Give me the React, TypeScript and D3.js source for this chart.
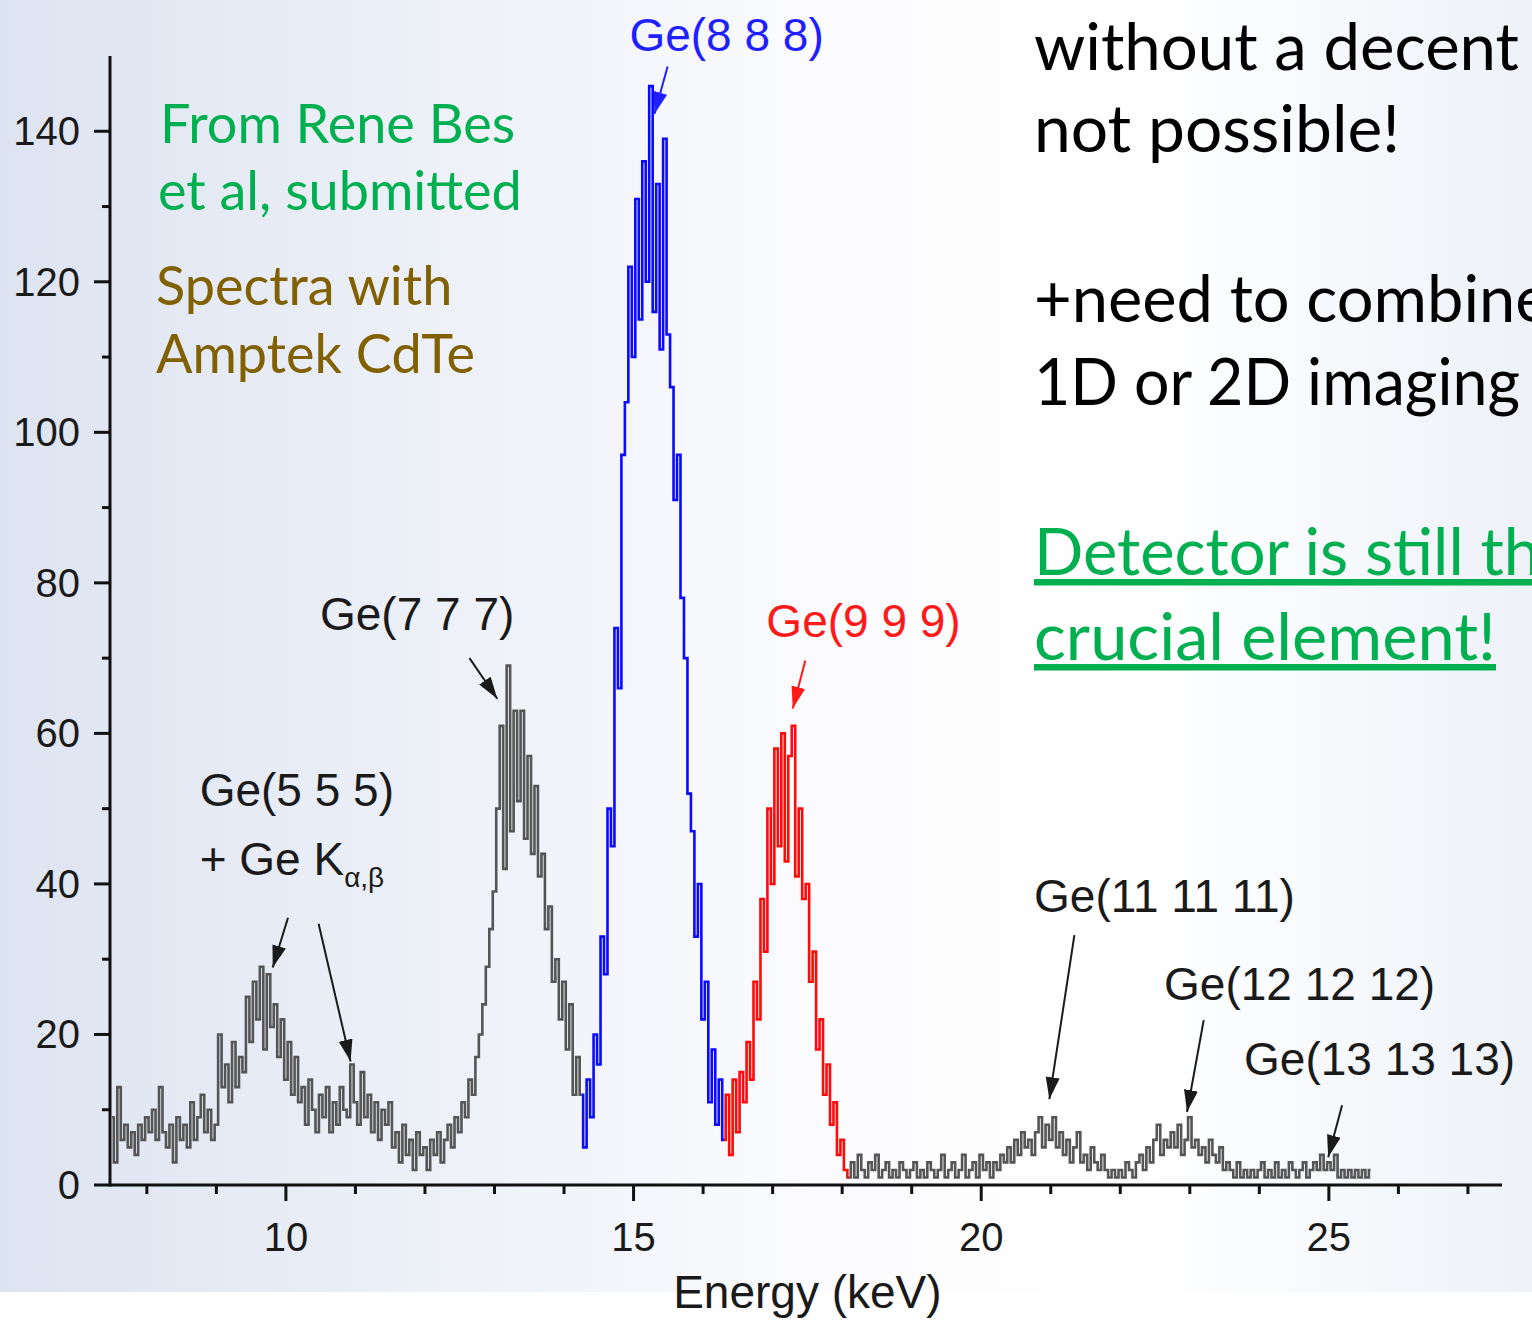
import React from "react";
import * as d3 from "d3";

// ---- Data (counts per 0.05 keV channel) ----
const CHANNEL_STEP = 0.05;

const lowGrayStart = 7.5;
const lowGrayCounts = [
  9, 3, 13, 6, 8, 5, 7, 4, 8, 6, 9, 7, 10, 6, 13, 7, 5, 8, 3, 9, 6, 8, 5, 11, 6, 9, 12, 7, 10, 6, 8,
  20, 13, 16, 11, 19, 13, 17,
  15, 25, 19, 27, 22, 29, 18, 28, 21, 24, 17,
  22, 14, 19, 12, 17, 11,
  13, 8, 14, 10, 7, 12, 9, 13, 7, 11, 8, 13, 10, 9,
  16, 11, 8, 15, 9, 12, 7, 11, 6, 10, 8, 11, 5,
  7, 3, 8, 4, 6, 2, 7, 4, 5, 2, 6, 4, 7, 3, 6,
  8, 5, 9, 7, 11, 9, 14, 12,
  17, 20, 24, 29, 34, 39,
  50, 61, 42, 69, 47, 63, 51, 63, 46, 57, 44, 53, 41, 44, 34, 37, 27, 30, 22, 27, 18, 24, 12, 17, 12,
];

const ge888Start = 14.25;
const ge888Counts = [
  12, 5, 14, 9, 20, 16, 33, 28, 50, 45, 74, 66, 97, 104, 122, 110, 131, 115, 136, 120,
  146, 116, 133, 111, 139, 113, 106, 91, 97, 78, 70, 52, 47, 33, 40, 22, 27, 11, 18, 8, 14, 6,
];

const ge999Start = 16.3;
const ge999Counts = [
  6, 12, 4, 14, 7, 15, 11, 19, 14, 27, 22, 38, 31, 50, 40, 58, 45, 60, 43, 57,
  61, 41, 50, 38, 40, 27, 31, 18, 22, 12, 16, 8, 11, 4, 6, 2, 1,
];

const highGrayStart = 18.1;
const highGrayCounts = [
  1, 3, 1, 4, 2, 1, 3, 2, 4, 1, 2, 3, 1, 2, 1, 3, 2, 1, 2, 3, 1, 2, 1, 3, 2, 1, 2, 4, 1, 2,
  3, 1, 2, 4, 1, 2, 3, 1, 4, 2, 3, 1, 3, 2, 4, 3,
  5, 3, 6, 4, 7, 5, 6, 4, 7, 9, 5, 8, 6, 9, 5, 7, 4, 6, 3, 5, 7, 3, 4, 2, 5, 3, 2, 4, 2, 1,
  2, 1, 2, 1, 3, 2, 1,
  3, 4, 2, 5, 3, 6, 8, 4, 6, 5, 7, 5, 8, 4, 6, 9, 5, 6, 4, 5, 3, 6, 4, 3, 5, 2, 3, 2,
  1, 3, 1, 2, 1, 2, 1, 2, 3, 1, 2, 1, 3, 1, 2, 1, 3, 2, 1, 2, 3, 1, 2, 3, 2, 4, 2, 3, 2, 4,
  1, 2, 1, 2, 1, 2, 1, 2, 1, 2,
];

const xMajorTicks = [10, 15, 20, 25];
const xMinorTicks = [8, 9, 11, 12, 13, 14, 16, 17, 18, 19, 21, 22, 23, 24, 26, 27];
const yMajorTicks = [0, 20, 40, 60, 80, 100, 120, 140];
const yMinorTicks = [10, 30, 50, 70, 90, 110, 130];
const xAxisTitle = "Energy (keV)";

// Peak annotations: label anchor (keV, counts) and arrow from/to (keV, counts)
const peakLabels = [
  { text: "Ge(8 8 8)", x: 14.94, y: 150.7, color: "#1f1fff", arrow: [15.49, 148.6, 15.3, 142.3] },
  { text: "Ge(7 7 7)", x: 10.49, y: 73.7, color: "#1a1a1a", arrow: [12.64, 70.0, 13.04, 64.6] },
  { text: "Ge(9 9 9)", x: 16.91, y: 72.8, color: "#ff1a1a", arrow: [17.47, 69.7, 17.29, 63.3] },
  { text: "Ge(11 11 11)", x: 20.76, y: 36.3, color: "#1a1a1a", arrow: [21.34, 33.2, 20.98, 11.4] },
  { text: "Ge(12 12 12)", x: 22.63, y: 24.6, color: "#1a1a1a", arrow: [23.2, 21.9, 22.96, 9.7] },
  { text: "Ge(13 13 13)", x: 23.78, y: 14.6, color: "#1a1a1a", arrow: [25.19, 10.6, 24.99, 3.7] },
];
const kAlphaArrows = [
  [10.03, 35.5, 9.81, 28.9],
  [10.47, 34.7, 10.93, 16.4],
];

const slideLeftLines = [
  { text: "From Rene Bes", x: 160, y: 143, color: "#00b050" },
  { text: "et al, submitted", x: 158, y: 210, color: "#00b050" },
  { text: "Spectra with", x: 156, y: 305, color: "#806000" },
  { text: "Amptek CdTe", x: 156, y: 373, color: "#806000" },
];
const slideRightLines = [
  { text: "without a decent", y: 70, color: "#000000", underline: false, len: 485 },
  { text: "not possible!", y: 152, color: "#000000", underline: false, len: 366 },
  { text: "+need to combine", y: 322, color: "#000000", underline: false, len: 0 },
  { text: "1D or 2D imaging", y: 405, color: "#000000", underline: false, len: 486 },
  { text: "Detector is still the", y: 575, color: "#00b050", underline: true, len: 0 },
  { text: "crucial element!", y: 660, color: "#00b050", underline: true, len: 462 },
];

const W = 1532;
const H = 1320;

function toPoints(start: number, counts: number[]) {
  return counts.map((c, i) => [start + i * CHANNEL_STEP, c] as [number, number]);
}

export default function App() {
  const x = d3.scaleLinear().domain([7.47, 27.49]).range([110, 1502]);
  const y = d3.scaleLinear().domain([0, 150]).range([1185, 56]);
  const line = d3
    .line<[number, number]>()
    .x((d) => x(d[0]))
    .y((d) => y(d[1]))
    .curve(d3.curveStep);

  const series = [
    { pts: toPoints(lowGrayStart, lowGrayCounts), color: "#555555" },
    { pts: toPoints(highGrayStart, highGrayCounts), color: "#555555" },
    { pts: toPoints(ge888Start, ge888Counts), color: "#0a0aff" },
    { pts: toPoints(ge999Start, ge999Counts), color: "#ff0a0a" },
  ];

  const chartFont = "'Liberation Sans', Arial, sans-serif";
  const slideFont = "Lato, 'Open Sans', sans-serif";
  const axisY = y(0);
  const axisX = x.range()[0];

  const markerId = (c: string) => "arr" + c.replace("#", "");
  const arrowColors = ["#1a1a1a", "#1f1fff", "#ff1a1a"];

  return (
    <svg
      width={W}
      height={H}
      style={{ position: "absolute", left: 0, top: 0, display: "block" }}
    >
      <defs>
        <linearGradient id="bg" x1="0" y1="0" x2="1" y2="0">
          <stop offset="0%" stopColor="#dde4f1" />
          <stop offset="30%" stopColor="#eef1f8" />
          <stop offset="55%" stopColor="#fcfcfe" />
          <stop offset="75%" stopColor="#ffffff" />
          <stop offset="100%" stopColor="#eef2f8" />
        </linearGradient>
        {arrowColors.map((c) => (
          <marker
            key={c}
            id={markerId(c)}
            markerUnits="userSpaceOnUse"
            markerWidth={24}
            markerHeight={16}
            refX={22}
            refY={8}
            orient="auto"
          >
            <path d="M0,1 L22,8 L0,15 Z" fill={c} />
          </marker>
        ))}
      </defs>
      <rect x={0} y={0} width={W} height={1292} fill="url(#bg)" />
      <rect x={0} y={1292} width={W} height={H - 1292} fill="#ffffff" />

      {/* spectrum */}
      {series.map((s, i) => (
        <path
          key={i}
          d={line(s.pts) || ""}
          fill="none"
          stroke={s.color}
          strokeWidth={2.6}
          strokeLinejoin="miter"
        />
      ))}

      {/* axes */}
      <g stroke="#111" strokeWidth={3} fill="none">
        <line x1={axisX} y1={axisY} x2={x.range()[1]} y2={axisY} />
        <line x1={axisX} y1={axisY + 1.5} x2={axisX} y2={y.range()[1]} />
        {xMajorTicks.map((t) => (
          <line key={"xM" + t} x1={x(t)} x2={x(t)} y1={axisY} y2={axisY + 16} />
        ))}
        {xMinorTicks.map((t) => (
          <line key={"xm" + t} x1={x(t)} x2={x(t)} y1={axisY} y2={axisY + 9} />
        ))}
        {yMajorTicks.map((t) => (
          <line key={"yM" + t} x1={axisX - 16} x2={axisX} y1={y(t)} y2={y(t)} />
        ))}
        {yMinorTicks.map((t) => (
          <line key={"ym" + t} x1={axisX - 8} x2={axisX} y1={y(t)} y2={y(t)} />
        ))}
      </g>
      <g fontFamily={chartFont} fontSize={40} fill="#1a1a1a">
        {yMajorTicks.map((t) => (
          <text key={"yl" + t} x={80} y={y(t)} textAnchor="end" dominantBaseline="central">
            {t}
          </text>
        ))}
        {xMajorTicks.map((t) => (
          <text key={"xl" + t} x={x(t)} y={1251} textAnchor="middle">
            {t}
          </text>
        ))}
        <text x={(x(15) + x(20)) / 2} y={1308} fontSize={46} textAnchor="middle">
          {xAxisTitle}
        </text>
      </g>

      {/* peak annotations */}
      <g fontFamily={chartFont} fontSize={46}>
        {peakLabels.map((p) => (
          <g key={p.text}>
            <text x={x(p.x)} y={y(p.y)} fill={p.color}>
              {p.text}
            </text>
            <line
              x1={x(p.arrow[0])}
              y1={y(p.arrow[1])}
              x2={x(p.arrow[2])}
              y2={y(p.arrow[3])}
              stroke={p.color}
              strokeWidth={2}
              markerEnd={`url(#${markerId(p.color)})`}
            />
          </g>
        ))}
        <text x={x(8.76)} y={y(50.3)} fill="#1a1a1a">
          Ge(5 5 5)
        </text>
        <text x={x(8.76)} y={y(41.2)} fill="#1a1a1a">
          + Ge K
          <tspan fontSize={28} dy={12}>
            α,β
          </tspan>
        </text>
        {kAlphaArrows.map((a, i) => (
          <line
            key={"ka" + i}
            x1={x(a[0])}
            y1={y(a[1])}
            x2={x(a[2])}
            y2={y(a[3])}
            stroke="#1a1a1a"
            strokeWidth={2}
            markerEnd={`url(#${markerId("#1a1a1a")})`}
          />
        ))}
      </g>

      {/* slide text */}
      <g fontFamily={slideFont} fontSize={54}>
        {slideLeftLines.map((l) => (
          <text key={l.text} x={l.x} y={l.y} fill={l.color}>
            {l.text}
          </text>
        ))}
      </g>
      <g fontFamily={slideFont} fontSize={65}>
        {slideRightLines.map((l) => (
          <text
            key={l.text}
            x={1034}
            y={l.y}
            fill={l.color}
            textDecoration={l.underline ? "underline" : undefined}
            textLength={l.len > 0 ? l.len : undefined}
            lengthAdjust={l.len > 0 ? "spacingAndGlyphs" : undefined}
          >
            {l.text}
          </text>
        ))}
      </g>
    </svg>
  );
}
